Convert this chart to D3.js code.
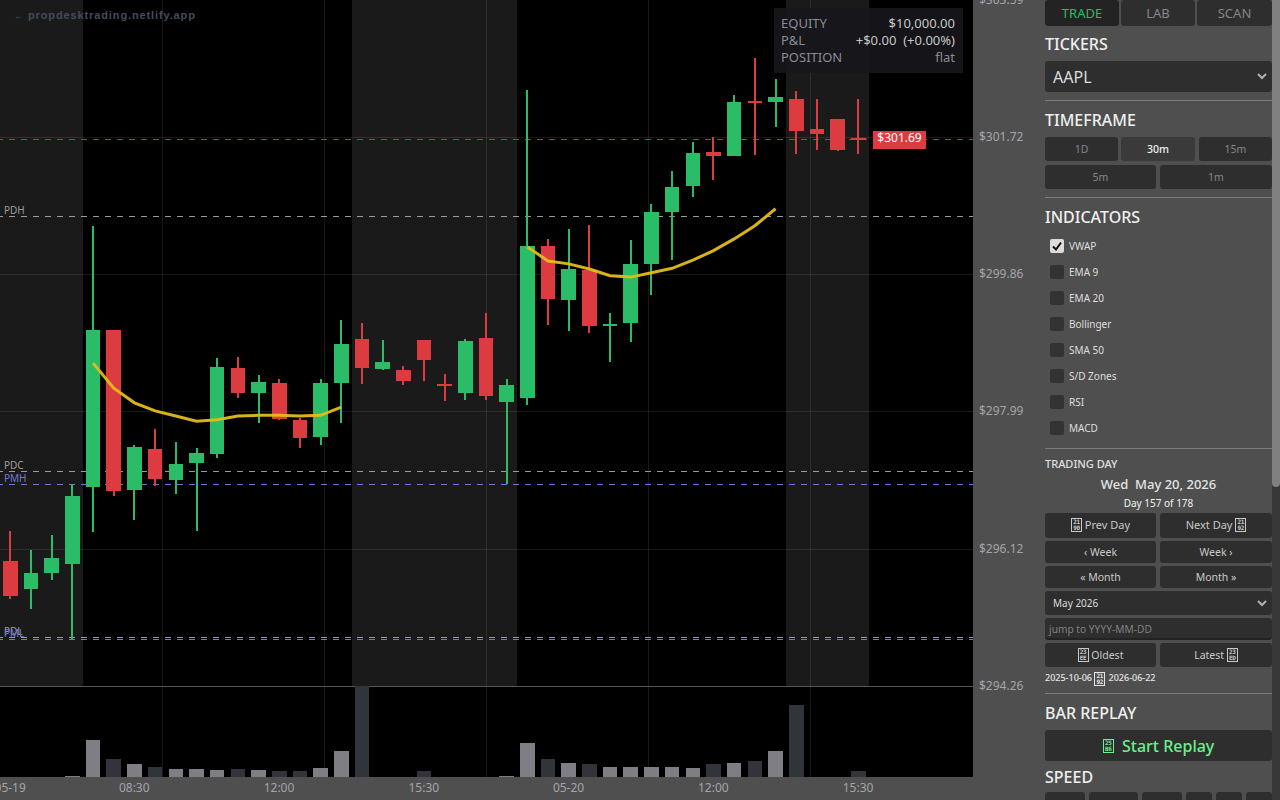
<!DOCTYPE html>
<html>
<head>
<meta charset="utf-8">
<title>AAPL replay</title>
<script src="https://cdn.jsdelivr.net/npm/d3@7/dist/d3.min.js"></script>
<style>
html, body { margin: 0; padding: 0; width: 1280px; height: 800px; overflow: hidden; background: #4f4f4f; font-family: "Noto Sans", sans-serif; }
#chart { position: absolute; left: 0; top: 0; }
#side { position: absolute; left: 0; top: 0; width: 1280px; height: 800px; }
#side div { position: absolute; box-sizing: border-box; white-space: pre; }
.btn { background: #2e2e2e; border-radius: 3px; display: flex; align-items: center; justify-content: center; color: #c8c8c8; font-size: 10.5px; padding-bottom: 1px; }
.dim { color: #858589; }
.on { color: #f0f0f0; background: #3a3a3a; font-weight: 500; }
.head { font-size: 16px; font-weight: 500; color: #efefef; line-height: 20px; }
.hr { background: #7c7c7c; height: 1px; left: 1045px; width: 227px; }
.sel { background: #2e2e2e; border-radius: 3px; color: #ddd; }
.tofu { display: inline-block; box-sizing: border-box; border: 1px solid currentColor; width: 11px; height: 14px; font: bold 6px/6px "DejaVu Sans Mono", monospace; text-align: center; vertical-align: middle; white-space: normal; letter-spacing: -0.3px; overflow: hidden; }
</style>
</head>
<body>
<svg id="chart" width="1033" height="800"></svg>
<div id="side"></div>
<script>
var opens = [295.96,295.58,295.79,295.92,296.96,299.10,296.92,297.48,297.06,297.29,297.41,298.58,298.24,298.38,297.88,297.65,298.38,298.98,298.57,298.56,298.96,298.37,298.24,298.99,298.12,298.18,300.24,299.51,299.92,299.15,299.20,300.00,300.71,301.06,301.52,301.47,302.22,302.20,302.24,301.83,301.97,301.71];
var highs = [296.37,296.11,296.31,297.00,300.52,299.10,297.54,297.75,297.58,297.50,298.72,298.73,298.49,298.43,297.90,298.43,299.24,299.20,298.96,298.61,298.96,298.50,298.98,299.33,298.43,302.37,300.34,300.47,300.53,299.33,300.32,300.81,301.26,301.66,301.73,302.30,302.80,302.52,302.35,302.24,301.97,302.24];
var lows = [295.44,295.30,295.70,294.90,296.35,296.84,296.52,296.98,296.87,296.37,297.36,298.18,297.84,297.88,297.50,297.54,297.84,298.37,298.56,298.35,298.41,298.13,298.15,298.15,297.00,298.08,299.17,299.09,299.06,298.66,298.94,299.58,300.05,300.91,301.14,301.47,301.48,301.86,301.50,301.55,301.54,301.50];
var closes = [295.48,295.79,296.00,296.84,299.10,296.91,297.51,297.07,297.28,297.43,298.60,298.24,298.39,297.89,297.63,298.38,298.91,298.58,298.66,298.41,298.69,298.34,298.95,298.20,298.35,300.24,299.52,299.93,299.15,299.18,300.00,300.71,301.05,301.51,301.47,302.20,302.19,302.27,301.81,301.77,301.55,301.69];
var volumes = [0,0,0,1,37,18,13,10,8,8,7,8,7,6,6,9,26,91,0,0,6,0,0,0,1,34,18,14,13,10,10,10,10,9,13,14,16,26,72,0,0,6];
var vwap = [null,null,null,null,298.65,298.31,298.11,298.00,297.93,297.86,297.88,297.93,297.94,297.94,297.93,297.94,298.05,null,null,null,null,null,null,null,null,300.23,300.04,300.00,299.93,299.84,299.82,299.88,299.94,300.05,300.18,300.34,300.52,300.75,null,null,null,null];

var priceTicks = [303.59, 301.72, 299.86, 297.99, 296.12, 294.26];
var timeTicks = [0, 6, 13, 20, 27, 34, 41];
var timeLabels = ["05-19", "08:30", "12:00", "15:30", "05-20", "12:00", "15:30"];
var sessionBands = [[-0.5, 3.5], [16.5, 24.5], [37.5, 41.5]];

var levelNames = ["PDH", "PDC", "PMH", "PDL", "PML"];
var levelPrices = [300.645, 297.17, 297.00, 294.92, 294.89];
var levelColors = ["#9c9c9c", "#9c9c9c", "#6f78d8", "#9c9c9c", "#6f78d8"];
var lastPrice = 301.69;

var indicatorNames = ["VWAP", "EMA 9", "EMA 20", "Bollinger", "SMA 50", "S/D Zones", "RSI", "MACD"];

var GREEN = "#2abc66", RED = "#dc3c40";
var paneW = 973, paneH = 686, axisY = 777;

var x = d3.scaleLinear().domain([0, 41]).range([10.38, 858.26]);
var y = d3.scaleLinear().domain([294.26, 303.59]).range([685.8, 0]);
var v = d3.scaleLinear().domain([0, 91]).range([axisY, paneH]);

var svg = d3.select("#chart");
svg.append("rect").attr("width", paneW).attr("height", axisY).attr("fill", "#000");

// sessions (pre / after hours)
svg.append("g").selectAll("rect").data(sessionBands).enter().append("rect")
    .attr("x", function(d){ return Math.max(0, Math.round(x(d[0]))); })
    .attr("width", function(d){ return Math.round(x(d[1])) - Math.max(0, Math.round(x(d[0]))); })
    .attr("y", 0).attr("height", paneH)
    .attr("fill", "#1a1a1a");

// grid
var grid = svg.append("g").attr("stroke", "rgba(255,255,255,0.09)").attr("shape-rendering", "crispEdges");
d3.range(1, 6).forEach(function(k){
    var gx = Math.floor(paneW * k / 6) + 0.5;
    grid.append("line").attr("x1", gx).attr("x2", gx).attr("y1", 0).attr("y2", axisY);
});
priceTicks.slice(1, 5).forEach(function(p){
    var gy = Math.floor(y(p)) + 0.5;
    grid.append("line").attr("x1", 0).attr("x2", paneW).attr("y1", gy).attr("y2", gy);
});

// pane divider
svg.append("rect").attr("x", 0).attr("y", paneH).attr("width", paneW).attr("height", 1).attr("fill", "#565656");

// levels
var levels = svg.append("g");
levelPrices.forEach(function(p, i){
    var ly = Math.floor(y(p)) + 0.5;
    levels.append("line").attr("x1", 0).attr("x2", paneW).attr("y1", ly).attr("y2", ly)
        .attr("stroke", levelColors[i]).attr("stroke-dasharray", "6,6").attr("stroke-dashoffset", 3)
        .attr("shape-rendering", "crispEdges");
    levels.append("text").attr("x", 4).attr("y", ly - 3).text(levelNames[i])
        .attr("fill", levelColors[i]).attr("font-size", 10);
});
var lastY = Math.floor(y(lastPrice)) + 0.5;
levels.append("line").attr("x1", 0).attr("x2", paneW).attr("y1", lastY).attr("y2", lastY)
    .attr("stroke", "#b8383c").attr("stroke-dasharray", "6,6").attr("stroke-dashoffset", 3)
    .attr("shape-rendering", "crispEdges");

// volume
svg.append("g").attr("shape-rendering", "crispEdges").selectAll("rect").data(volumes).enter().append("rect")
    .attr("x", function(d, i){ return Math.round(x(i) - 7.3); })
    .attr("width", function(d, i){ return Math.round(x(i) + 7.3) - Math.round(x(i) - 7.3); })
    .attr("y", function(d){ return Math.round(v(d)); })
    .attr("height", function(d){ return axisY - Math.round(v(d)); })
    .attr("fill", function(d, i){ return closes[i] >= opens[i] ? "#7e7e84" : "#32343c"; });

// candles
var candle = svg.append("g").attr("shape-rendering", "crispEdges").selectAll("g").data(opens).enter().append("g")
    .attr("fill", function(d, i){ return closes[i] >= opens[i] ? GREEN : RED; });
candle.append("rect")
    .attr("x", function(d, i){ return Math.round(x(i) - 1); })
    .attr("width", 2)
    .attr("y", function(d, i){ return Math.round(y(highs[i])); })
    .attr("height", function(d, i){ return Math.round(y(lows[i])) - Math.round(y(highs[i])); });
candle.append("rect")
    .attr("x", function(d, i){ return Math.round(x(i) - 7.3); })
    .attr("width", function(d, i){ return Math.round(x(i) + 7.3) - Math.round(x(i) - 7.3); })
    .attr("y", function(d, i){ return Math.round(y(Math.max(opens[i], closes[i]))); })
    .attr("height", function(d, i){
        return Math.max(2, Math.round(y(Math.min(opens[i], closes[i]))) - Math.round(y(Math.max(opens[i], closes[i]))));
    });

// vwap
var line = d3.line().defined(function(d){ return d !== null; })
    .x(function(d, i){ return x(i); }).y(function(d){ return y(d); });
svg.append("path").datum(vwap).attr("d", line)
    .attr("fill", "none").attr("stroke", "#e4bc1a").attr("stroke-width", 3).attr("stroke-opacity", 0.95);

// last price tag
svg.append("rect").attr("x", 873).attr("y", 131).attr("width", 53).attr("height", 18).attr("fill", RED);
svg.append("text").attr("x", 899.5).attr("y", 141.5).attr("text-anchor", "middle")
    .attr("fill", "#fff").attr("font-size", 12).text("$" + lastPrice.toFixed(2));

// axes
var priceAxis = d3.axisRight(y).tickValues(priceTicks).tickSize(0).tickPadding(6)
    .tickFormat(function(d){ return "$" + d.toFixed(2); });
var pa = svg.append("g").attr("transform", "translate(" + paneW + ",-0.6)").call(priceAxis);
var timeAxis = d3.axisBottom(x).tickValues(timeTicks).tickSize(0).tickPadding(6)
    .tickFormat(function(d){ return timeLabels[timeTicks.indexOf(d)]; });
var ta = svg.append("g").attr("transform", "translate(-0.7," + axisY + ")").call(timeAxis);
[pa, ta].forEach(function(a){
    a.select(".domain").remove();
    a.selectAll("text").attr("fill", "#a3a5ab").attr("font-size", 12).attr("font-family", "Noto Sans");
});

// watermark
svg.append("text").attr("x", 14).attr("y", 19).attr("fill", "#444c5a")
    .attr("font-family", "Liberation Sans").attr("font-size", 9).text("\u2190");
svg.append("text").attr("x", 28).attr("y", 19).attr("fill", "#444c5a")
    .attr("font-family", "Liberation Sans").attr("font-weight", "bold").attr("font-size", 11)
    .attr("letter-spacing", 0.88).text("propdesktrading.netlify.app");

// account box
svg.append("rect").attr("x", 774).attr("y", 8).attr("width", 189).attr("height", 65).attr("fill", "rgba(22,22,28,0.9)");
var acctLabels = ["EQUITY", "P&L", "POSITION"];
var acctValues = ["$10,000.00", "+$0.00  (+0.00%)", "flat"];
var acctColors = ["#c8c8c8", "#c8c8c8", "#8b8b93"];
acctLabels.forEach(function(t, i){
    svg.append("text").attr("x", 781).attr("y", 28 + i * 17).attr("fill", "#8b8b93").attr("font-size", 13).text(t);
    svg.append("text").attr("x", 955).attr("y", 28 + i * 17).attr("text-anchor", "end")
        .attr("fill", acctColors[i]).attr("font-size", 13).style("white-space", "pre").text(acctValues[i]);
});
svg.selectAll("text").attr("font-family", function(){
    return d3.select(this).attr("font-family") || "Noto Sans";
});

// ---- sidebar ----
var side = d3.select("#side");

function box(cls, l, t, w, h, html){
    return side.append("div").attr("class", cls)
        .style("left", l + "px").style("top", t + "px")
        .style("width", w + "px").style("height", h + "px")
        .html(html || "");
}
function tofu(a, b){ return "<span class='tofu'>" + a + "<br>" + b + "</span>"; }
function heading(t, cy){ box("head", 1045, cy - 10, 227, 20, t); }
function rule(t){ side.append("div").attr("class", "hr").style("top", t + "px"); }
function chevron(l, cy){
    side.append("div").style("left", l + "px").style("top", (cy - 4) + "px")
        .html("<svg width='10' height='8' style='display:block'><path d='M1 2 L5 6 L9 2' fill='none' stroke='#b0b0b0' stroke-width='2'/></svg>");
}

box("btn", 1045, 0, 74, 26, "TRADE").style("background", "#232323").style("color", GREEN).style("font-size", "13px");
box("btn dim", 1121, 0, 74, 26, "LAB").style("font-size", "13px");
box("btn dim", 1197, 0, 75, 26, "SCAN").style("font-size", "13px");

heading("TICKERS", 44);
box("sel", 1045, 61, 227, 31, "AAPL").style("font-size", "16px").style("line-height", "32px").style("padding-left", "8px");
chevron(1257, 76);
rule(100);

heading("TIMEFRAME", 120);
box("btn dim", 1045, 137, 73, 24, "1D");
box("btn on", 1121, 137, 74, 24, "30m");
box("btn dim", 1199, 137, 73, 24, "15m");
box("btn dim", 1045, 165, 111, 24, "5m");
box("btn dim", 1160, 165, 112, 24, "1m");
rule(197);

heading("INDICATORS", 217);
indicatorNames.forEach(function(n, i){
    var cb = box("", 1050, 239 + i * 26, 14, 14).style("border-radius", "2px").style("background", i === 0 ? "#dcdcdc" : "#333");
    if(i === 0){
        cb.html("<svg width='14' height='14' style='display:block'><path d='M3 7.5 L6 10.5 L11 3.5' fill='none' stroke='#111' stroke-width='2'/></svg>");
    }
    box("", 1069, 239 + i * 26, 100, 14, n).style("font-size", "10px").style("line-height", "14px").style("color", "#dedede");
});
rule(448);

box("", 1045, 456, 200, 16, "TRADING DAY").style("font-size", "11px").style("line-height", "16px").style("color", "#e0e0e0").style("font-weight", 500);
box("", 1045, 475, 227, 18, "Wed  May 20, 2026").style("font-size", "13px").style("line-height", "18px").style("font-weight", 500).style("color", "#e4e4e4").style("text-align", "center");
box("", 1045, 496, 227, 14, "Day 157 of 178").style("font-size", "10px").style("line-height", "14px").style("color", "#f2f2f2").style("text-align", "center");

box("btn", 1045, 513, 111, 25, tofu("21", "90") + "&nbsp;Prev Day").style("font-size", "11px").style("padding-bottom", "2px");
box("btn", 1160, 513, 112, 25, "Next Day&nbsp;" + tofu("21", "92")).style("font-size", "11px").style("padding-bottom", "2px");
box("btn", 1045, 541, 111, 22, "\u2039 Week");
box("btn", 1160, 541, 112, 22, "Week \u203a");
box("btn", 1045, 566, 111, 22, "\u00ab Month");
box("btn", 1160, 566, 112, 22, "Month \u00bb");
box("sel", 1045, 591, 227, 24, "May 2026").style("font-size", "10px").style("line-height", "24px").style("padding-left", "8px");
chevron(1257, 603);
box("sel", 1045, 618, 227, 22, "jump to YYYY-MM-DD").style("font-size", "10.2px").style("line-height", "23px").style("padding-left", "4px").style("color", "#808080").style("border-bottom", "2px solid #222");
box("btn", 1045, 643, 111, 24, tofu("23", "EE") + "&nbsp;Oldest");
box("btn", 1160, 643, 112, 24, "Latest&nbsp;" + tofu("23", "ED"));
box("", 1045, 670, 227, 16, "2025-10-06 " + tofu("21", "92") + "&nbsp;&#8202;2026-06-22").style("font-size", "9px").style("font-weight", 500).style("line-height", "16px").style("color", "#e6e6e6");
rule(693);

heading("BAR REPLAY", 713);
box("btn", 1045, 730, 227, 31, tofu("25", "B6") + "&nbsp;&nbsp;Start Replay").style("font-size", "16px").style("font-weight", 500).style("color", "#6cf08c").style("padding-bottom", 0);

heading("SPEED", 777);
[[1045, 40], [1089, 49], [1142, 40], [1186, 26], [1216, 26], [1246, 26]].forEach(function(b){
    box("btn", b[0], 792, b[1], 24);
});

// scrollbar
box("", 1272, 0, 8, 800).style("background", "#383838");
box("", 1272, 0, 8, 487).style("background", "#808080").style("border-radius", "0 0 4px 4px");
</script>
</body>
</html>
